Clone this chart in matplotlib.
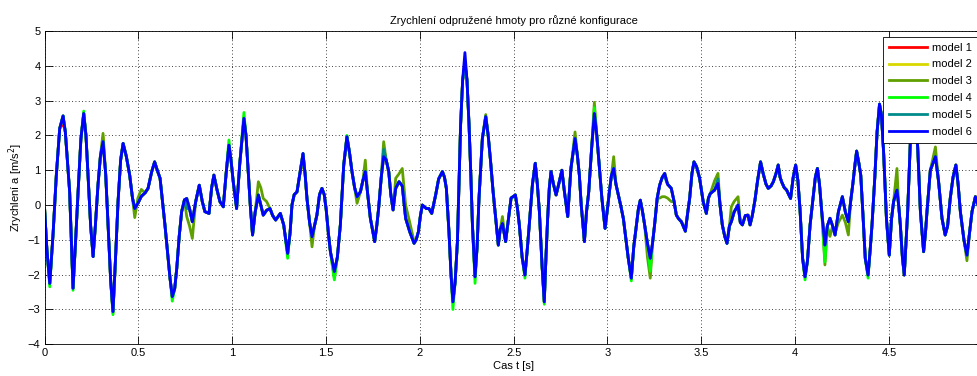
import numpy as np
import matplotlib
matplotlib.use('Agg')
import matplotlib.pyplot as plt

# 1. Data - cas [s] a zrychleni odpruzene hmoty [m/s^2] (model 6)
cas = [0.000, 0.012, 0.027, 0.045, 0.062, 0.080, 0.098, 0.110, 0.133, 0.151,
       0.165, 0.178, 0.193, 0.208, 0.220, 0.231, 0.245, 0.258, 0.270, 0.284,
       0.297, 0.311, 0.325, 0.338, 0.352, 0.364, 0.377, 0.391, 0.405, 0.418,
       0.435, 0.453, 0.468, 0.480, 0.497, 0.515, 0.535, 0.551, 0.570, 0.586,
       0.600, 0.615, 0.641, 0.668, 0.680, 0.693, 0.704, 0.717, 0.730, 0.745,
       0.757, 0.772, 0.787, 0.805, 0.824, 0.840, 0.854, 0.876, 0.890, 0.902,
       0.918, 0.934, 0.952, 0.967, 0.982, 0.993, 1.005, 1.023, 1.040, 1.062,
       1.073, 1.085, 1.097, 1.108, 1.122, 1.139, 1.152, 1.165, 1.183, 1.201,
       1.215, 1.231, 1.256, 1.274, 1.295, 1.308, 1.318, 1.330, 1.345, 1.360,
       1.377, 1.388, 1.398, 1.412, 1.425, 1.438, 1.451, 1.465, 1.478, 1.490,
       1.500, 1.512, 1.523, 1.544, 1.560, 1.576, 1.594, 1.611, 1.625, 1.638,
       1.652, 1.665, 1.683, 1.696, 1.709, 1.722, 1.736, 1.759, 1.770, 1.780,
       1.794, 1.807, 1.820, 1.834, 1.845, 1.857, 1.871, 1.889, 1.906, 1.924,
       1.946, 1.969, 1.980, 1.992, 2.003, 2.013, 2.034, 2.048, 2.063, 2.084,
       2.100, 2.120, 2.131, 2.141, 2.155, 2.166, 2.176, 2.188, 2.200, 2.208,
       2.217, 2.228, 2.240, 2.251, 2.262, 2.272, 2.280, 2.294, 2.305, 2.315,
       2.333, 2.351, 2.364, 2.377, 2.390, 2.404, 2.418, 2.428, 2.440, 2.457,
       2.472, 2.486, 2.509, 2.520, 2.530, 2.545, 2.560, 2.572, 2.583, 2.600,
       2.615, 2.626, 2.637, 2.651, 2.663, 2.672, 2.681, 2.690, 2.699, 2.712,
       2.726, 2.740, 2.757, 2.770, 2.788, 2.797, 2.805, 2.827, 2.840, 2.850,
       2.860, 2.877, 2.888, 2.900, 2.915, 2.930, 2.943, 2.956, 2.970, 2.987,
       3.000, 3.010, 3.021, 3.033, 3.045, 3.054, 3.072, 3.085, 3.098, 3.110,
       3.127, 3.140, 3.154, 3.165, 3.175, 3.187, 3.198, 3.213, 3.228, 3.240,
       3.251, 3.265, 3.278, 3.292, 3.305, 3.320, 3.340, 3.355, 3.367, 3.380,
       3.394, 3.415, 3.428, 3.438, 3.450, 3.461, 3.475, 3.491, 3.510, 3.527,
       3.538, 3.548, 3.571, 3.589, 3.600, 3.612, 3.625, 3.637, 3.650, 3.660,
       3.675, 3.696, 3.708, 3.719, 3.735, 3.749, 3.760, 3.772, 3.786, 3.800,
       3.816, 3.830, 3.845, 3.857, 3.872, 3.884, 3.898, 3.910, 3.920, 3.928,
       3.942, 3.955, 3.966, 3.976, 3.990, 4.003, 4.015, 4.026, 4.040, 4.053,
       4.066, 4.080, 4.098, 4.108, 4.119, 4.130, 4.142, 4.159, 4.172, 4.186,
       4.200, 4.213, 4.231, 4.252, 4.268, 4.284, 4.296, 4.307, 4.320, 4.328,
       4.340, 4.350, 4.362, 4.374, 4.389, 4.400, 4.410, 4.425, 4.437, 4.450,
       4.460, 4.472, 4.487, 4.502, 4.514, 4.525, 4.543, 4.552, 4.561, 4.572,
       4.582, 4.592, 4.600, 4.614, 4.626, 4.640, 4.653, 4.668, 4.685, 4.695,
       4.703, 4.721, 4.748, 4.765, 4.783, 4.800, 4.813, 4.827, 4.842, 4.857,
       4.869, 4.881, 4.900, 4.916, 4.930, 4.943, 4.961, 4.975, 5.000]

model6 = [-0.15, -1.30, -2.25, -0.80, 0.86, 2.20, 2.56, 2.10, 0.38, -2.39,
          -1.00, 0.38, 1.90, 2.63, 2.00, 0.86, -0.60, -1.48, -0.60, 0.57,
          1.40, 1.82, 0.90, -0.57, -2.20, -3.06, -1.60, 0.10, 1.30, 1.77,
          1.40, 0.86, 0.20, -0.10, 0.05, 0.25, 0.35, 0.48, 0.95, 1.24,
          1.00, 0.77, -0.57, -2.10, -2.63, -2.40, -1.82, -0.90, -0.19, 0.15,
          0.19, -0.10, -0.48, 0.10, 0.57, 0.10, -0.19, -0.24, 0.50, 0.86,
          0.45, 0.10, -0.05, 0.90, 1.72, 1.30, 0.67, -0.10, 1.20, 2.49,
          2.00, 0.96, -0.10, -0.86, -0.20, 0.29, 0.00, -0.29, -0.15, -0.10,
          -0.30, -0.43, -0.24, -0.57, -1.39, -0.80, 0.00, 0.30, 0.38, 0.90,
          1.48, 0.90, 0.19, -0.50, -0.91, -0.60, -0.29, 0.30, 0.48, 0.30,
          -0.10, -0.80, -1.34, -1.91, -1.50, -0.57, 1.15, 1.96, 1.50, 0.96,
          0.50, 0.24, 0.38, 0.70, 0.96, 0.30, -0.38, -1.05, -0.60, -0.10,
          0.80, 1.39, 1.30, 0.96, 0.30, -0.14, 0.48, 0.67, 0.55, -0.38,
          -0.77, -1.10, -1.00, -0.77, -0.30, 0.00, -0.10, -0.10, -0.24, 0.29,
          0.75, 0.96, 0.80, 0.48, -0.77, -2.00, -2.78, -2.20, -1.05, 0.50,
          2.30, 3.60, 4.38, 3.60, 2.30, 0.80, -0.57, -2.06, -1.20, 0.19,
          1.91, 2.54, 2.00, 1.24, 0.40, -0.38, -1.15, -0.70, -0.53, -1.05,
          -0.40, 0.20, 0.29, -0.10, -0.57, -1.50, -2.01, -1.30, -0.57, 0.60,
          1.20, 0.60, -0.19, -1.73, -2.78, -1.50, -0.38, 0.50, 0.96, 0.60,
          0.29, 0.60, 1.00, 0.40, -0.33, 0.40, 1.05, 1.91, 1.40, 0.86,
          0.00, -1.05, -0.20, 0.38, 1.60, 2.63, 2.00, 1.15, 0.20, -0.67,
          -0.10, 0.38, 0.85, 1.05, 0.60, 0.38, -0.05, -0.40, -0.96, -1.50,
          -2.10, -1.20, -0.57, -0.10, 0.14, -0.20, -0.57, -1.10, -1.53, -1.10,
          -0.57, 0.20, 0.57, 0.80, 0.91, 0.60, 0.48, 0.10, -0.29, -0.40,
          -0.48, -0.75, -0.20, 0.19, 0.90, 1.24, 1.10, 0.77, 0.10, -0.24,
          0.20, 0.33, 0.43, 0.62, 0.00, -0.57, -0.90, -1.10, -0.60, -0.48,
          -0.20, 0.00, -0.50, -0.57, -0.30, -0.29, -0.57, -0.30, 0.14, 0.70,
          1.24, 0.90, 0.60, 0.48, 0.55, 0.67, 0.90, 1.15, 0.80, 0.67,
          0.50, 0.43, 0.30, 0.19, 0.80, 1.15, 0.70, -0.10, -1.53, -2.06,
          -1.60, -0.57, 0.30, 0.80, 1.05, 0.60, -0.19, -1.15, -0.60, -0.38,
          -0.60, -0.86, -0.19, 0.24, -0.20, -0.48, 0.10, 0.57, 1.20, 1.55,
          1.20, 0.86, -0.30, -1.53, -2.01, -1.30, -0.57, 0.80, 2.10, 2.90,
          2.60, 1.50, -0.40, -1.44, -0.40, 0.10, 0.43, 0.00, -0.57, -1.50,
          -2.01, -1.00, -0.19, 1.77, 2.30, 2.10, 1.72, -0.19, -1.34, -0.80,
          -0.19, 1.00, 1.39, 0.67, -0.38, -0.86, -0.60, 0.19, 0.80, 1.15,
          0.60, -0.19, -1.00, -1.44, -0.80, -0.19, 0.24, 0.00, 0.20]

# odchylky ostatnich modelu od modelu 6 (cas: hodnota)
model1_zmeny = {0.098: 2.35, 2.240: 4.10}
model2_zmeny = {0.311: 1.95, 2.240: 4.00}
model3_zmeny = {0.311: 2.06, 0.364: -3.10, 0.480: -0.36, 0.497: 0.20, 0.515: 0.45,
                0.757: -0.33, 0.772: -0.60, 0.787: -0.96, 1.139: 0.67, 1.152: 0.50,
                1.165: 0.19, 1.183: 0.10, 1.377: 1.24, 1.425: -1.20, 1.544: -2.10,
                1.665: 0.05, 1.709: 1.29, 1.807: 1.82, 1.871: 0.77, 1.889: 0.90,
                1.906: 1.05, 1.924: 0.00, 1.946: -0.50, 1.969: -1.05, 2.240: 3.90,
                2.351: 2.60, 2.440: -0.33, 2.827: 2.10, 2.930: 2.95, 3.033: 1.39,
                3.213: -1.50, 3.228: -2.10, 3.278: 0.20, 3.292: 0.24, 3.305: 0.24,
                3.320: 0.20, 3.340: 0.10, 3.571: 0.70, 3.589: 0.91, 3.660: -0.05,
                3.675: 0.10, 3.696: 0.24, 4.159: -1.72, 4.186: -0.90, 4.213: -0.80,
                4.231: -0.50, 4.252: -0.29, 4.268: -0.50, 4.284: -0.86, 4.543: 1.05,
                4.748: 1.67, 4.916: -1.60}
model4_zmeny = {0.027: -2.35, 0.151: -2.45, 0.208: 2.70, 0.364: -3.15, 0.680: -2.76,
                0.982: 1.87, 1.062: 2.66, 1.295: -1.53, 1.544: -2.15, 1.611: 2.00,
                2.176: -3.00, 2.240: 3.95, 2.294: -2.25, 2.560: -2.10, 2.663: -2.85,
                2.930: 2.80, 3.127: -2.18, 3.228: -1.90, 4.053: -2.15, 4.159: -1.63,
                4.389: -2.10}
model5_zmeny = {0.757: -0.10, 1.807: 1.60, 2.240: 4.05, 3.305: 0.80, 3.589: 0.75}

nazvy = ['model 1', 'model 2', 'model 3', 'model 4', 'model 5', 'model 6']
barvy = ['#ff0000', '#d8d800', '#5fa000', '#00ff00', '#008b8b', '#0000ff']
popisky_x = ['0', '0.5', '1', '1.5', '2', '2.5', '3', '3.5', '4', '4.5']

t = np.array(cas)
zaklad = np.array(model6)


def sestav(zmeny):
    a = zaklad.copy()
    for tk, hodnota in zmeny.items():
        a[np.argmin(np.abs(t - tk))] = hodnota
    return a


modely = [sestav(model1_zmeny), sestav(model2_zmeny), sestav(model3_zmeny),
          sestav(model4_zmeny), sestav(model5_zmeny), zaklad]

# 2. Graf
plt.rcParams['font.family'] = ['Liberation Sans', 'DejaVu Sans']
plt.rcParams['font.size'] = 8

fig = plt.figure(figsize=(9.78, 3.76), dpi=100)
ax = fig.add_axes([0.0457, 0.0843, 0.9591, 0.8333])

for a, nazev, barva in zip(modely, nazvy, barvy):
    ax.plot(t, a, color=barva, linewidth=2, label=nazev)

ax.set_xlim(0, 5)
ax.set_ylim(-4, 5)
ax.set_xticks(np.arange(0, 4.51, 0.5))
ax.set_xticklabels(popisky_x)
ax.set_yticks(np.arange(-4, 6, 1))
ax.tick_params(direction='in', length=6, width=0.6, top=True, right=True, pad=3)
ax.grid(True, color='k', linestyle=(0, (1, 3)), linewidth=0.6)
for s in ax.spines.values():
    s.set_linewidth(0.6)

ax.set_title('Zrychlení odpružené hmoty pro různé konfigurace', fontsize=8, pad=5)
ax.set_xlabel('Cas t [s]', labelpad=2)
ax.set_ylabel(r'Zrychlení a [m/s$^2$]', labelpad=2)

leg = ax.legend(loc='upper right', bbox_to_anchor=(977 / 978, 1 - 37 / 376),
                bbox_transform=fig.transFigure, borderaxespad=0, fancybox=False,
                edgecolor='k', framealpha=1, handlelength=3.4, handletextpad=0.45,
                labelspacing=0.62, borderpad=0.5)
leg.get_frame().set_linewidth(0.6)

fig.savefig('out.png', dpi=100)
